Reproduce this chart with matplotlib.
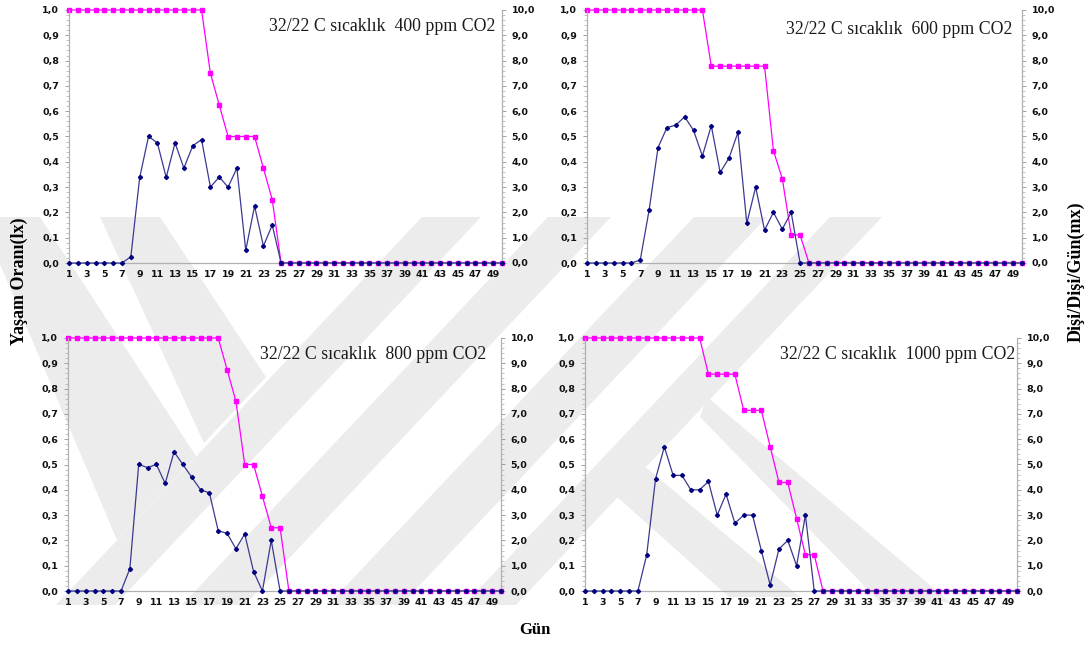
import matplotlib
matplotlib.use("Agg")
import matplotlib.pyplot as plt
from matplotlib.patches import Polygon
from matplotlib.ticker import MultipleLocator, FixedLocator, FuncFormatter
import numpy as np

# gün 1..50
days = np.arange(1, 51)

titles = ["32/22 C sıcaklık  400 ppm CO2", "32/22 C sıcaklık  600 ppm CO2",
          "32/22 C sıcaklık  800 ppm CO2", "32/22 C sıcaklık  1000 ppm CO2"]

# yaşam oranı lx (sol eksen)
lx_400 = [1.0] * 16 + [0.75, 0.625, 0.5, 0.5, 0.5, 0.5, 0.375, 0.25] + [0.0] * 26
lx_600 = [1.0] * 14 + [0.778] * 7 + [0.444, 0.333, 0.111, 0.111] + [0.0] * 25
lx_800 = [1.0] * 18 + [0.875, 0.75, 0.5, 0.5, 0.375, 0.25, 0.25] + [0.0] * 25
lx_1000 = ([1.0] * 14 + [0.857] * 4 + [0.714] * 3
           + [0.571, 0.429, 0.429, 0.286, 0.143, 0.143] + [0.0] * 23)

# dişi/dişi/gün mx (sağ eksen)
mx_400 = ([0.0] * 7 + [0.25, 3.38, 5.0, 4.75, 3.38, 4.75, 3.75, 4.63, 4.88,
                       3.0, 3.4, 3.0, 3.75, 0.5, 2.25, 0.67, 1.5] + [0.0] * 26)
mx_600 = ([0.0] * 6 + [0.12, 2.1, 4.56, 5.35, 5.45, 5.78, 5.24, 4.23, 5.43,
                       3.58, 4.15, 5.16, 1.57, 3.0, 1.3, 2.0, 1.34, 2.0] + [0.0] * 26)
mx_800 = ([0.0] * 7 + [0.88, 5.0, 4.88, 5.0, 4.25, 5.5, 5.0, 4.5, 4.0,
                       3.88, 2.38, 2.28, 1.67, 2.25, 0.77, 0.0, 2.0] + [0.0] * 26)
mx_1000 = ([0.0] * 7 + [1.43, 4.43, 5.7, 4.57, 4.57, 4.0, 4.0, 4.33, 3.0, 3.83,
                        2.68, 3.0, 3.0, 1.6, 0.24, 1.66, 2.0, 1.0, 3.0] + [0.0] * 24)

lx_all = [lx_400, lx_600, lx_800, lx_1000]
mx_all = [mx_400, mx_600, mx_800, mx_1000]

W, H = 1090, 646
fig = plt.figure(figsize=(W / 100, H / 100), dpi=100)


def px(x, y):
    return (x / W, 1 - y / H)


# arka plandaki gri filigran
TOP, BOT = 217, 605
def slash(a, b, s=1.06):
    sh = (BOT - TOP) / s
    return [(a, TOP), (b, TOP), (b - sh, BOT), (a - sh, BOT)]

marks = [slash(422, 481), slash(548, 611), slash(694, 767), slash(830, 882),
         [(100, TOP), (160, TOP), (266, 377), (204, 443)],
         [(-20, TOP), (40, TOP), (196, 456), (117, 540)],
         [(707, 397), (950, 602), (880, 602), (700, 417)],
         [(643, 465), (800, 597), (729, 597), (615, 495)]]
for m in marks:
    fig.add_artist(Polygon([px(x, y) for x, y in m], closed=True,
                           transform=fig.transFigure, facecolor="#ececec",
                           edgecolor="none", zorder=-1))

# eksen yerleşimi (piksel: sol, sağ, üst, alt)
boxes = [(69, 502, 10, 263), (587, 1022, 10, 263),
         (68, 501, 338, 591), (585, 1017, 338, 591)]
title_pos = [(0.984, 0.933), (0.977, 0.921), (0.965, 0.933), (0.995, 0.933)]

comma1 = FuncFormatter(lambda v, p: f"{v:.1f}".replace(".", ","))

for i in range(4):
    l, r, t, b = boxes[i]
    ax = fig.add_axes([l / W, 1 - b / H, (r - l) / W, (b - t) / H])
    ax2 = ax.twinx()
    for a in (ax, ax2):
        a.set_facecolor("none")
        a.set_xlim(1, 50)
        a.spines["top"].set_visible(False)
        for s in ("left", "right", "bottom"):
            a.spines[s].set_color("#b0b0b0")
            a.spines[s].set_linewidth(0.8)

    ax.plot(days, lx_all[i], color="#ff00ff", lw=0.9, marker="s", ms=2.8,
            mec="#ff00ff", mfc="#ff00ff", clip_on=False, zorder=3)
    ax2.plot(days, mx_all[i], color="#3a3a90", lw=0.9, marker="D", ms=2.1,
             mec="#000080", mfc="#000080", clip_on=False, zorder=3)

    ax.set_ylim(0, 1)
    ax2.set_ylim(0, 10)
    ax.yaxis.set_major_locator(MultipleLocator(0.1))
    ax.yaxis.set_minor_locator(MultipleLocator(0.02))
    ax2.yaxis.set_major_locator(MultipleLocator(1))
    ax2.yaxis.set_minor_locator(MultipleLocator(0.2))
    ax.yaxis.set_major_formatter(comma1)
    ax2.yaxis.set_major_formatter(comma1)

    ax.xaxis.set_major_locator(FixedLocator(np.arange(1, 50, 2)))
    ax.tick_params(axis="x", length=0, pad=5)
    ax2.tick_params(axis="x", length=0, labelbottom=False)
    for a in (ax, ax2):
        a.tick_params(axis="y", which="major", length=3, width=0.7,
                      color="#a0a0a0", pad=4)
        a.tick_params(axis="y", which="minor", length=2, width=0.6,
                      color="#b8b8b8")
    for lab in ax.get_xticklabels() + ax.get_yticklabels() + ax2.get_yticklabels():
        lab.set_fontfamily("DejaVu Sans")
        lab.set_fontweight("bold")
        lab.set_fontsize(6.8)
        lab.set_color("#111111")

    tx, ty = title_pos[i]
    ax.text(tx, ty, titles[i], transform=ax.transAxes, ha="right", va="center",
            family="Liberation Serif", fontsize=12.8, color="#1a1a1a", zorder=5)

fig.text(19 / W, 1 - 281 / H, "Yaşam Oranı(lx)", rotation=90, ha="center",
         va="center", family="Liberation Serif", weight="bold", fontsize=13)
fig.text(1076 / W, 1 - 272 / H, "Dişi/Dişi/Gün(mx)", rotation=90, ha="center",
         va="center", family="Liberation Serif", weight="bold", fontsize=13)
fig.text(535 / W, 1 - 630 / H, "Gün", ha="center", va="center",
         family="Liberation Serif", weight="bold", fontsize=12)

fig.savefig("out.png", dpi=100)
